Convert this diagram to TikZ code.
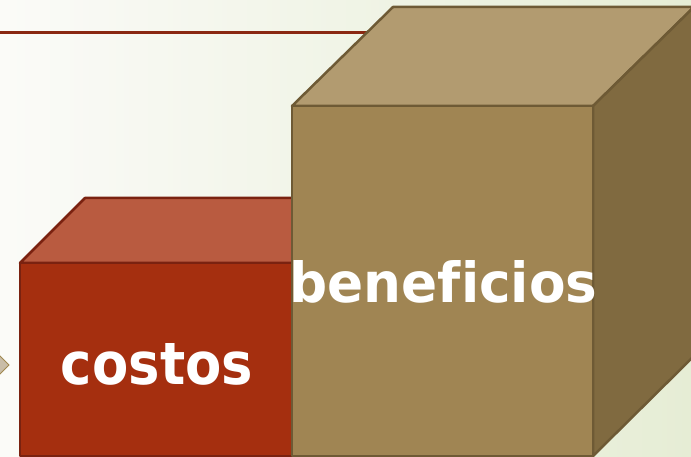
\documentclass[tikz,border=0pt]{standalone}
\usepackage{fontspec}
\usepackage{xcolor}
\usepackage{graphicx}
\usepackage{tikz}
\newfontfamily\boxfont{DejaVu Sans Bold}[Ligatures=CommonOff]

\definecolor{bgleft}{HTML}{FBFBF8}
\definecolor{bgright}{HTML}{E6EDD5}
\definecolor{rulered}{HTML}{8A2812}
\definecolor{redfront}{HTML}{A52F0F}
\definecolor{redtop}{HTML}{B95B40}
\definecolor{redline}{HTML}{7A2210}
\definecolor{tanfront}{HTML}{A08553}
\definecolor{tantop}{HTML}{B29B70}
\definecolor{tanside}{HTML}{806A40}
\definecolor{tanline}{HTML}{6E5A35}
\definecolor{tipfill}{HTML}{C9BDA8}
\definecolor{tipline}{HTML}{A08850}

\begin{document}
\begin{tikzpicture}[x=1pt, y=-1pt,
			costface/.style={line width=2.5pt, draw=redline, line join=round},
			gainface/.style={line width=2.5pt, draw=tanline, line join=round},
			boxlabel/.style={text=white, font=\boxfont\fontsize{60}{60}\selectfont, anchor=base, inner sep=0pt}]
			
			\useasboundingbox (0,0) rectangle (691,457);
			\shade[left color=bgleft, right color=bgright] (0,0) rectangle (691,457);
			
			% rule and left tip
			\draw[rulered, line width=3pt] (-2,33) -- (380,33);
			\draw[fill=tipfill, draw=tipline, line width=1pt] (-19,365) -- (-5,351) -- (9,365) -- (-5,379) -- cycle;
			
			% costos box
			\draw[costface, fill=redtop] (20,263) -- (85,198) -- (375,198) -- (310,263) -- cycle;
			\draw[costface, fill=redfront] (20,263) rectangle (310,456);
			
			% beneficios box
			\draw[gainface, fill=tantop] (292,106) -- (393,7) -- (694,7) -- (593,106) -- cycle;
			\draw[gainface, fill=tanside] (593,106) -- (694,7) -- (694,356) -- (593,456) -- cycle;
			\draw[gainface, fill=tanfront] (292,106) rectangle (593,456);
			
			\node[boxlabel] (costos) at (157,384) {\resizebox{192pt}{41pt}{costos}};
			\node[boxlabel] (beneficios) at (443.5,302) {\resizebox{308pt}{42pt}{beneficios}};
		\end{tikzpicture}
\end{document}
